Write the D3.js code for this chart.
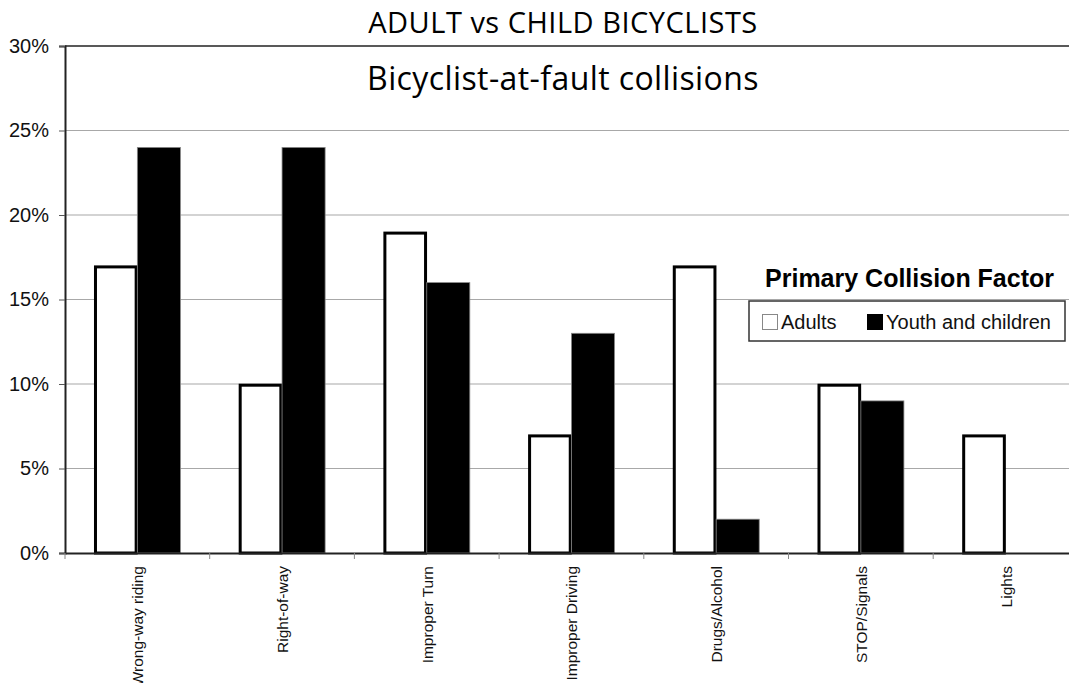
<!DOCTYPE html>
<html>
<head>
<meta charset="utf-8">
<script src="https://cdn.jsdelivr.net/npm/d3@7"></script>
<style>
  html, body { margin: 0; padding: 0; background: #fff; }
  svg { display: block; }
</style>
</head>
<body>
<svg id="chart" width="1069" height="683"></svg>
<script>
// Collision factor categories and percentages for each group
const categories = ["Wrong-way riding", "Right-of-way", "Improper Turn", "Improper Driving", "Drugs/Alcohol", "STOP/Signals", "Lights"];
const adults = [17, 10, 19, 7, 17, 10, 7];
const youth = [24, 24, 16, 13, 2, 9, 0];
const seriesNames = ["Adults", "Youth and children"];
const yTicks = [0, 5, 10, 15, 20, 25, 30];

const svg = d3.select("#chart");
const margin = { left: 65, top: 46 };
const bandW = 144.7;
const plotRight = margin.left + bandW * categories.length;
const y0 = 553;

const x = d3.scaleBand().domain(categories).range([margin.left, plotRight]).paddingInner(0).paddingOuter(0);
const xs = d3.scaleBand().domain(seriesNames).range([0, x.bandwidth()]).paddingInner(0).paddingOuter(0.68);
const y = d3.scaleLinear().domain([0, 30]).range([y0, margin.top]);

// horizontal gridlines
svg.append("g").selectAll("line").data(yTicks.filter(d => d > 0 && d < 30)).join("line")
  .attr("x1", margin.left).attr("x2", 1069)
  .attr("y1", d => y(d)).attr("y2", d => y(d))
  .attr("stroke", "#a8a8a8").attr("stroke-width", 1.2);

// top border line
svg.append("line").attr("x1", margin.left).attr("x2", 1069)
  .attr("y1", y(30)).attr("y2", y(30)).attr("stroke", "#222").attr("stroke-width", 1.5);

// y axis
const yAxis = d3.axisLeft(y).tickValues(yTicks).tickFormat(d => d + "%").tickSize(6).tickPadding(10);
const gy = svg.append("g").attr("transform", `translate(${margin.left},0)`).call(yAxis);
gy.select(".domain").attr("stroke", "#222").attr("stroke-width", 2);
gy.selectAll(".tick line").attr("stroke", "#555");
gy.selectAll("text").attr("font-family", "Liberation Sans, Arial, sans-serif").attr("font-size", 20).attr("fill", "#111");

// bars
const groups = svg.append("g").selectAll("g").data(categories).join("g")
  .attr("transform", d => `translate(${x(d)},0)`);

groups.append("rect")
  .attr("x", (d, i) => xs("Adults") + 1.2)
  .attr("width", xs.bandwidth() - 2.4)
  .attr("y", (d, i) => y(adults[i]) + 1.2)
  .attr("height", (d, i) => y0 - y(adults[i]) - 1.2)
  .attr("fill", "#fff").attr("stroke", "#000").attr("stroke-width", 3);

groups.append("rect")
  .attr("x", (d, i) => xs("Youth and children"))
  .attr("width", xs.bandwidth())
  .attr("y", (d, i) => y(youth[i]))
  .attr("height", (d, i) => y0 - y(youth[i]))
  .attr("fill", "#000").attr("stroke", "#888").attr("stroke-width", 0.8);

// x axis
const xAxis = d3.axisBottom(x).tickSize(0).tickFormat("");
const gx = svg.append("g").attr("transform", `translate(0,${y0})`).call(xAxis);
gx.select(".domain").attr("stroke", "#222").attr("stroke-width", 2);

// boundary ticks between categories
svg.append("g").selectAll("line").data(d3.range(categories.length + 1)).join("line")
  .attr("x1", i => margin.left + i * bandW).attr("x2", i => margin.left + i * bandW)
  .attr("y1", y0).attr("y2", y0 + 6)
  .attr("stroke", "#888").attr("stroke-width", 1);

// rotated category labels
svg.append("g").selectAll("text").data(categories).join("text")
  .attr("transform", d => `translate(${x(d) + x.bandwidth() / 2 + 6},${y0 + 13}) rotate(-90)`)
  .attr("text-anchor", "end")
  .attr("font-family", "Liberation Sans, Arial, sans-serif").attr("font-size", 15.5).attr("fill", "#111")
  .text(d => d);

// titles
svg.append("text").attr("x", 563).attr("y", 33).attr("text-anchor", "middle")
  .attr("font-family", "Open Sans, sans-serif").attr("font-size", 29).attr("letter-spacing", 0.5).attr("fill", "#000")
  .text("ADULT vs CHILD BICYCLISTS");
svg.append("text").attr("x", 563).attr("y", 90).attr("text-anchor", "middle")
  .attr("font-family", "Open Sans, sans-serif").attr("font-size", 32).attr("letter-spacing", 0.4).attr("fill", "#000")
  .text("Bicyclist-at-fault collisions");

// legend
svg.append("text").attr("x", 1054).attr("y", 287).attr("text-anchor", "end")
  .attr("font-family", "Liberation Sans, Arial, sans-serif").attr("font-size", 25).attr("font-weight", "bold").attr("fill", "#000")
  .text("Primary Collision Factor");

const lg = svg.append("g").attr("transform", "translate(749,301)");
lg.append("rect").attr("width", 316).attr("height", 40).attr("fill", "#fff").attr("stroke", "#333").attr("stroke-width", 1.5);
const items = lg.selectAll("g").data(seriesNames).join("g")
  .attr("transform", (d, i) => `translate(${i === 0 ? 13 : 118},0)`);
items.append("rect").attr("x", 0.5).attr("y", 13.5).attr("width", 15).attr("height", 15)
  .attr("fill", (d, i) => i === 0 ? "#fff" : "#000")
  .attr("stroke", (d, i) => i === 0 ? "#888" : "#000").attr("stroke-width", 1);
items.append("text").attr("x", 19).attr("y", 28)
  .attr("font-family", "Liberation Sans, Arial, sans-serif").attr("font-size", 20).attr("fill", "#111")
  .text(d => d);
</script>
</body>
</html>
